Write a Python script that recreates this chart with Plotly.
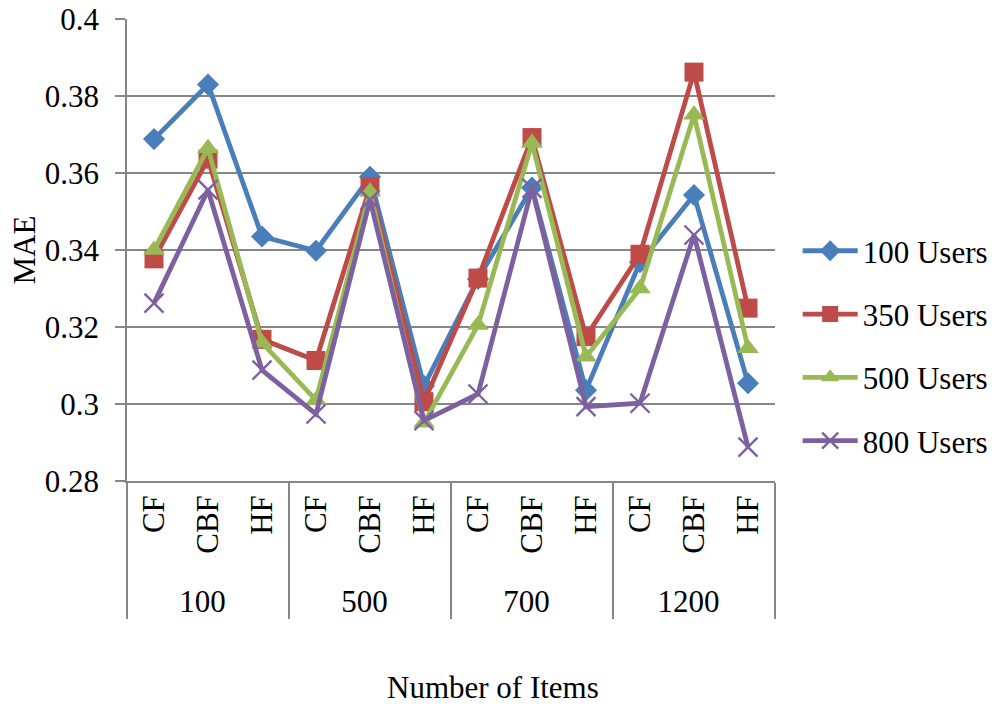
import plotly.graph_objects as go

# Item counts (outer group) and filtering methods (inner group)
item_counts = ["100", "500", "700", "1200"]
methods = ["CF", "CBF", "HF"]

# MAE per (item count, method), in the order of item_counts x methods
mae_100_users = [0.3688, 0.3830, 0.3435, 0.3398, 0.3590, 0.3047,
                 0.3325, 0.3562, 0.3036, 0.3368, 0.3543, 0.3054]
mae_350_users = [0.3377, 0.3636, 0.3168, 0.3113, 0.3564, 0.3006,
                 0.3327, 0.3692, 0.3175, 0.3389, 0.3862, 0.3249]
mae_500_users = [0.3400, 0.3664, 0.3159, 0.3010, 0.3551, 0.2951,
                 0.3205, 0.3678, 0.3123, 0.3300, 0.3751, 0.3145]
mae_800_users = [0.3262, 0.3556, 0.3088, 0.2974, 0.3530, 0.2957,
                 0.3026, 0.3560, 0.2993, 0.3002, 0.3439, 0.2888]

series_names = ["100 Users", "350 Users", "500 Users", "800 Users"]
y_ticks = [0.28, 0.30, 0.32, 0.34, 0.36, 0.38, 0.40]
y_tick_text = ["0.28", "0.3", "0.32", "0.34", "0.36", "0.38", "0.4"]

outer = [c for c in item_counts for _ in methods]
inner = [m for _ in item_counts for m in methods]

FONT = "Liberation Serif"
GRAY = "#868686"

styles = [
    dict(color="#4A7EBB", symbol="diamond", size=17, lw=0),
    dict(color="#BE4B48", symbol="square", size=19, lw=0),
    dict(color="#98B954", symbol="triangle-up", size=19, lw=0),
    dict(color="#7D60A0", symbol="x-thin", size=19, lw=2.4),
]

fig = go.Figure()
for i, (name, vals, st) in enumerate(zip(series_names,
                                         [mae_100_users, mae_350_users, mae_500_users, mae_800_users],
                                         styles)):
    fig.add_trace(go.Scatter(
        x=[outer, inner], y=vals, name=name, mode="lines+markers",
        legendgroup=f"g{i}",
        line=dict(color=st["color"], width=4.8),
        marker=dict(symbol=st["symbol"], size=st["size"], color=st["color"],
                    line=dict(color=st["color"], width=st["lw"])),
    ))

fig.update_layout(
    width=995, height=704,
    margin=dict(l=127, r=220, t=19, b=223, autoexpand=False),
    paper_bgcolor="white", plot_bgcolor="white",
    font=dict(family=FONT, size=31, color="black"),
    showlegend=True,
    legend=dict(x=1.035, xanchor="left", y=0.292, yanchor="middle",
                traceorder="grouped", tracegroupgap=20,
                font=dict(family=FONT, size=31), itemwidth=55,
                bgcolor="rgba(0,0,0,0)"),
    annotations=[dict(text="Number of Items", xref="paper", yref="paper",
                      x=0.565, y=-0.448, xanchor="center", yanchor="middle",
                      showarrow=False, font=dict(family=FONT, size=31))],
)

fig.update_xaxes(
    type="multicategory", tickangle=-90, range=[-0.5, 11.5],
    automargin=False,
    showline=True, linecolor=GRAY, linewidth=1.5,
    showgrid=False, ticks="",
    showdividers=True, dividercolor=GRAY, dividerwidth=1.5,
    tickfont=dict(family=FONT, size=31),
)
fig.update_yaxes(
    range=[0.28, 0.40], tickvals=y_ticks, ticktext=y_tick_text,
    automargin=False,
    showline=True, linecolor=GRAY, linewidth=1.5,
    showgrid=True, gridcolor=GRAY, gridwidth=1.5,
    ticks="outside", ticklen=10, tickcolor=GRAY, tickwidth=1.5,
    ticklabelstandoff=10,
    zeroline=False,
    title=dict(text="MAE", font=dict(family=FONT, size=31), standoff=0),
    tickfont=dict(family=FONT, size=31),
)

fig.write_html("out.html")
